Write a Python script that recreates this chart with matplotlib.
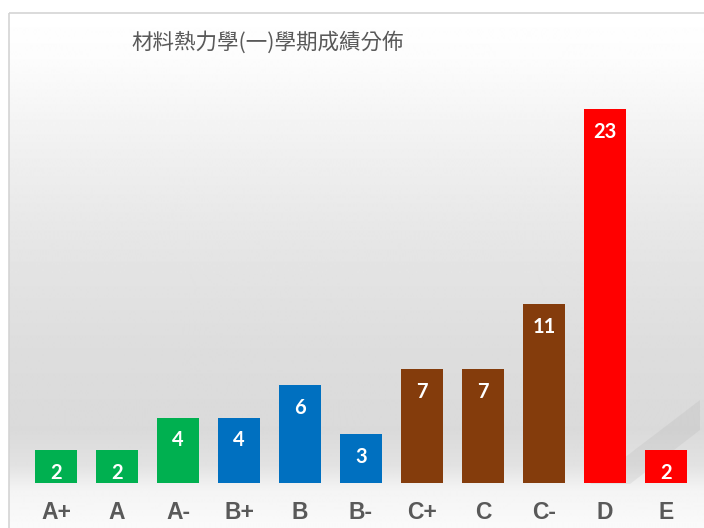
import matplotlib
matplotlib.use("Agg")
import matplotlib.pyplot as plt
import numpy as np
from matplotlib.patches import Rectangle, Polygon

grades = ["A+", "A", "A-", "B+", "B", "B-", "C+", "C", "C-", "D", "E"]
counts = [2, 2, 4, 4, 6, 3, 7, 7, 11, 23, 2]
colors = ["#00B050", "#00B050", "#00B050",
          "#0070C0", "#0070C0", "#0070C0",
          "#843C0C", "#843C0C", "#843C0C",
          "#FF0000", "#FF0000"]
title = "材料熱力學(一)學期成績分佈"

W, H = 704, 528
fig = plt.figure(figsize=(W / 100, H / 100), dpi=100)
fig.patch.set_facecolor("white")

# background gradient of the chart area (pixel coords, y from top)
bg = fig.add_axes([0, 0, 1, 1])
bg.set_xlim(0, W)
bg.set_ylim(H, 0)
bg.axis("off")
yy = np.arange(12, H + 1)
gy = [12, 60, 150, 250, 350, 430, 465, 490, 528]
gv = [255, 252, 240, 229, 221, 218, 226, 244, 250]
shade = np.interp(yy, gy, gv) / 255.0
img = np.repeat(shade[:, None], 2, axis=1)
bg.imshow(img, cmap="gray", vmin=0, vmax=1, aspect="auto",
          extent=[9, W, H, 12], interpolation="bilinear", zorder=0)
bg.add_patch(Rectangle((8.5, 12.5), W, H, fill=False,
                       edgecolor="#d4d4d4", linewidth=1.2, zorder=1))
# soft diagonal reflection at bottom right
bg.add_patch(Polygon([(590, 484), (700, 400), (700, 430), (630, 484)], closed=True,
                     facecolor="#a8a8a8", alpha=0.18, edgecolor="none", zorder=1))

# plot area
left, right = 25.5 / W, 696.5 / W
bottom = 45 / H
ymax = 25
top_px = 483 - ymax * 16.26
ax = fig.add_axes([left, bottom, right - left, (H - top_px) / H - bottom])
ax.patch.set_alpha(0)
x = np.arange(len(grades))
bars = ax.bar(x, counts, width=0.70, color=colors, zorder=3)
ax.set_xlim(-0.5, len(grades) - 0.5)
ax.set_ylim(0, ymax)
for xi, v in zip(x, counts):
    ax.annotate(str(v), (xi, v), xytext=(0, -9), textcoords="offset points",
                ha="center", va="top", color="white", fontsize=14.5,
                fontweight="bold", family="Lato", zorder=4)

ax.set_xticks(x)
ax.set_xticklabels(grades, fontsize=16.5, fontweight="bold",
                   family="Liberation Sans", color="#595959")
ax.tick_params(axis="x", length=0, pad=13)
ax.set_yticks([])
for s in ax.spines.values():
    s.set_visible(False)

fig.text(268 / W, 1 - 42 / H, title, ha="center", va="center",
         fontsize=15.5, color="#595959",
         family=["Noto Sans CJK TC", "DejaVu Sans"])

fig.savefig("out.png", dpi=100)
